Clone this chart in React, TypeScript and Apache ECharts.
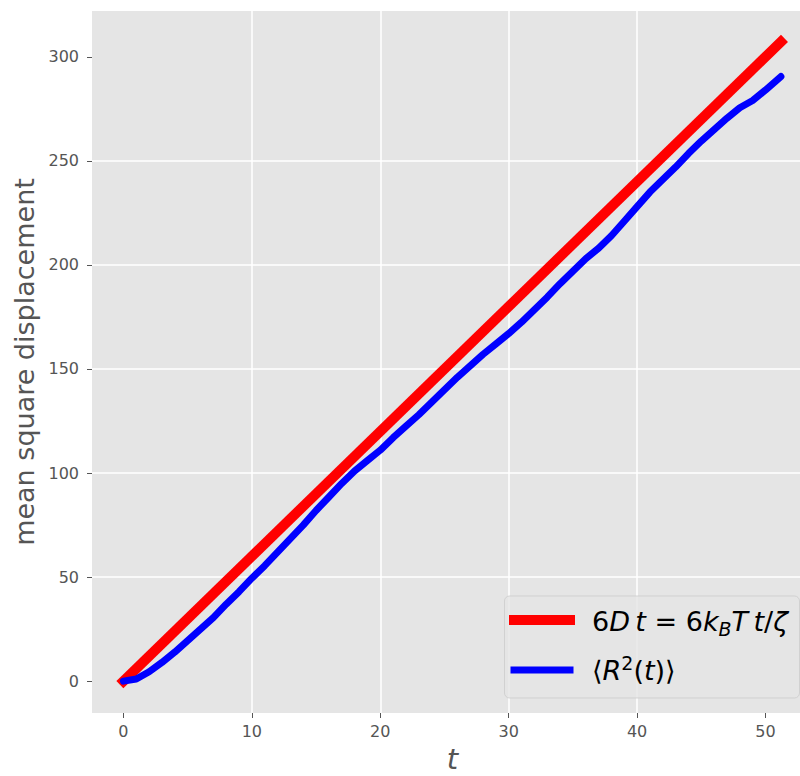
import React, { useEffect, useRef } from "react";
import * as echarts from "echarts";

// time values of the simulated mean square displacement
const tValues = [
  0, 1, 2, 3, 4, 5, 6, 7, 8, 9, 10, 11, 12, 13, 14, 15, 16, 17, 18, 19, 20,
  21, 22, 23, 24, 25, 26, 27, 28, 29, 30, 31, 32, 33, 34, 35, 36, 37, 38, 39,
  40, 41, 42, 43, 44, 45, 46, 47, 48, 49, 50, 51.2,
];
// <R^2(t)>
const msdValues = [
  0, 1, 4.5, 9, 14, 19.5, 25, 30.5, 37, 43, 49.5, 55.5, 62, 68.5, 75, 82, 88.5,
  95, 101, 106, 111, 117, 122.5, 128, 134, 140, 146, 151.5, 157, 162, 167,
  172.5, 178.5, 184.5, 191, 197, 203, 208, 214, 221, 228, 235, 241, 247, 253.5,
  259.5, 265, 270.5, 275.5, 279, 284, 290.5,
];
// 6 D t straight line (end points)
const theoryT = [0, 51.2];
const theoryValues = [0, 307.2];

const xTicks = [0, 10, 20, 30, 40, 50];
const yTicks = [0, 50, 100, 150, 200, 250, 300];

const FONT = "DejaVu Sans";

export default function App() {
  const ref = useRef<HTMLDivElement>(null);
  useEffect(() => {
    if (!ref.current) return;
    const chart = echarts.init(ref.current, undefined, { renderer: "svg" });
    const tickColor = "#555555";
    const legFs = 27;
    const rich = {
      n: { fontFamily: FONT, fontSize: legFs, lineHeight: 34, fill: "#000" },
      i: { fontFamily: FONT, fontSize: legFs, fontStyle: "italic", lineHeight: 34, fill: "#000" },
      sub: { fontFamily: FONT, fontSize: 19, fontStyle: "italic", lineHeight: 14, verticalAlign: "bottom", fill: "#000" },
      sup: { fontFamily: FONT, fontSize: 19, lineHeight: 10, verticalAlign: "top", fill: "#000" },
    };
    chart.setOption({
      animation: false,
      backgroundColor: "#ffffff",
      grid: {
        left: 92,
        top: 11,
        width: 721,
        height: 702,
        show: true,
        backgroundColor: "#E5E5E5",
        borderWidth: 0,
        containLabel: false,
        outerBoundsMode: "none",
      },
      xAxis: {
        type: "value",
        min: -2.45,
        max: 53.7,
        name: "t",
        nameLocation: "middle",
        nameGap: 34,
        nameTextStyle: { fontFamily: FONT, fontSize: 29, lineHeight: 24, fontStyle: "italic", color: tickColor },
        axisLine: { show: false, onZero: false },
        axisTick: { show: true, inside: false, length: 5, lineStyle: { color: tickColor, width: 1 }, customValues: xTicks },
        axisLabel: { color: tickColor, fontSize: 16, fontFamily: FONT, margin: 10, customValues: xTicks },
        splitLine: { show: true, showMinLine: false, showMaxLine: false, lineStyle: { color: "#ffffff", width: 1.5 } },
      },
      yAxis: {
        type: "value",
        min: -15.3,
        max: 322,
        name: "mean square displacement",
        nameLocation: "middle",
        nameGap: 54,
        nameTextStyle: { fontFamily: FONT, fontSize: 27, color: tickColor },
        axisLine: { show: false, onZero: false },
        axisTick: { show: true, inside: false, length: 5, lineStyle: { color: tickColor, width: 1 }, customValues: yTicks },
        axisLabel: { color: tickColor, fontSize: 16, fontFamily: FONT, margin: 13, customValues: yTicks },
        splitLine: { show: true, showMinLine: false, showMaxLine: false, lineStyle: { color: "#ffffff", width: 1.5 } },
      },
      series: [
        {
          name: "6D t = 6k_B T t/ζ",
          type: "line",
          data: theoryT.map((t, k) => [t, theoryValues[k]]),
          showSymbol: false,
          symbol: "none",
          lineStyle: { color: "#ff0000", width: 10, cap: "square" },
        },
        {
          name: "⟨R²(t)⟩",
          type: "line",
          data: tValues.map((t, k) => [t, msdValues[k]]),
          showSymbol: false,
          symbol: "none",
          lineStyle: { color: "#0000ff", width: 7, cap: "round", join: "round" },
        },
      ],
      graphic: [
        {
          type: "rect",
          shape: { x: 504.5, y: 596, width: 295, height: 102, r: 5 },
          style: { fill: "rgba(229,229,229,0.8)", stroke: "rgba(204,204,204,0.8)", lineWidth: 1 },
          z: 100,
        },
        {
          type: "line",
          shape: { x1: 514, y1: 620, x2: 570, y2: 620 },
          style: { stroke: "#ff0000", lineWidth: 10, lineCap: "square" },
          z: 101,
        },
        {
          type: "line",
          shape: { x1: 514, y1: 670, x2: 570, y2: 670 },
          style: { stroke: "#0000ff", lineWidth: 7, lineCap: "square" },
          z: 101,
        },
        {
          type: "text",
          x: 592,
          y: 621,
          z: 101,
          style: {
            text: "{n|6}{i|D\u2009t}{n| = 6}{i|k}{sub|B}{i|T\u2009t}{n|/}{i|ζ}",
            rich,
            verticalAlign: "middle",
            align: "left",
            fontFamily: FONT,
            fontSize: legFs,
            fill: "#000",
          },
        },
        {
          type: "text",
          x: 592,
          y: 670,
          z: 101,
          style: {
            text: "{n|⟨}{i|R}{sup|2}{n|(}{i|t}{n|)⟩}",
            rich,
            verticalAlign: "middle",
            align: "left",
            fontFamily: FONT,
            fontSize: legFs,
            fill: "#000",
          },
        },
      ],
    });
    return () => chart.dispose();
  }, []);
  return (
    <div
      ref={ref}
      style={{ position: "fixed", left: 0, top: 0, width: 800, height: 776 }}
    />
  );
}
